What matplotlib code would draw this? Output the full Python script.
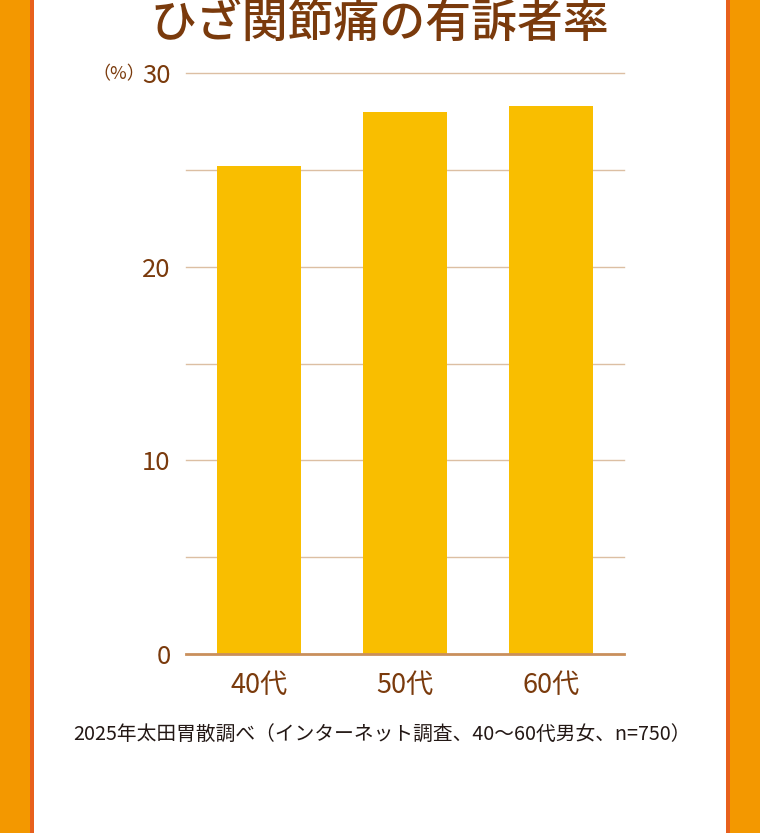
import matplotlib
matplotlib.use('Agg')

import matplotlib.pyplot as plt
from matplotlib.patches import Rectangle

plt.rcParams['font.family'] = ['Noto Sans CJK JP', 'DejaVu Sans']

# データ
categories = ['40代', '50代', '60代']
rates = [25.2, 28.0, 28.3]
major_ticks = [0, 10, 20, 30]
grid_ticks = [5, 10, 15, 20, 25, 30]

title = 'ひざ関節痛の有訴者率'
note = '2025年太田胃散調べ（インターネット調査、40〜60代男女、n=750）'

BROWN = '#7a3a0c'
BAR = '#f9be00'
ORANGE = '#f39800'
STRIPE = '#e8601c'
GRID = '#dcbfa3'
BASE = '#c98f5c'

W, H = 760, 833
fig = plt.figure(figsize=(W / 100, H / 100), dpi=100)
fig.patch.set_facecolor('white')

# 左右のオレンジ帯
for x0, w, c in [(0, 30, ORANGE), (30, 4, STRIPE), (730, 30, ORANGE), (726, 4, STRIPE)]:
    fig.patches.append(Rectangle((x0 / W, 0), w / W, 1, transform=fig.transFigure,
                                 facecolor=c, edgecolor='none', zorder=0))

ax = fig.add_axes([186 / W, (H - 654) / H, (624 - 186) / W, (654 - 73) / H])
ax.set_facecolor('none')

x = range(len(categories))
ax.bar(x, rates, width=0.58, color=BAR, zorder=2)

ax.set_xlim(-0.5, 2.5)
ax.set_ylim(0, 30)
for t in grid_ticks:
    ax.axhline(t, color=GRID, lw=1.0, zorder=1, clip_on=False)
ax.axhline(0, color=BASE, lw=2.0, zorder=3, clip_on=False)

for s in ax.spines.values():
    s.set_visible(False)

ax.set_yticks(major_ticks)
ax.set_yticklabels([str(t) for t in major_ticks], fontsize=18.5, color=BROWN)
ax.tick_params(axis='y', length=0, pad=11)
ax.set_xticks(list(x))
ax.set_xticklabels(categories, fontsize=19.5, color=BROWN)
ax.tick_params(axis='x', length=0, pad=13)

fig.text(145 / W, 1 - 74 / H, '（%）', fontsize=13, color=BROWN, ha='right', va='center')

fig.text(380 / W, 1 - 23 / H, title, fontsize=33, fontweight='medium',
         color=BROWN, ha='center', va='center')
fig.text(382 / W, 1 - 734 / H, note, fontsize=14.2, color='#231815',
         ha='center', va='center')

fig.savefig('out.png', dpi=100)
